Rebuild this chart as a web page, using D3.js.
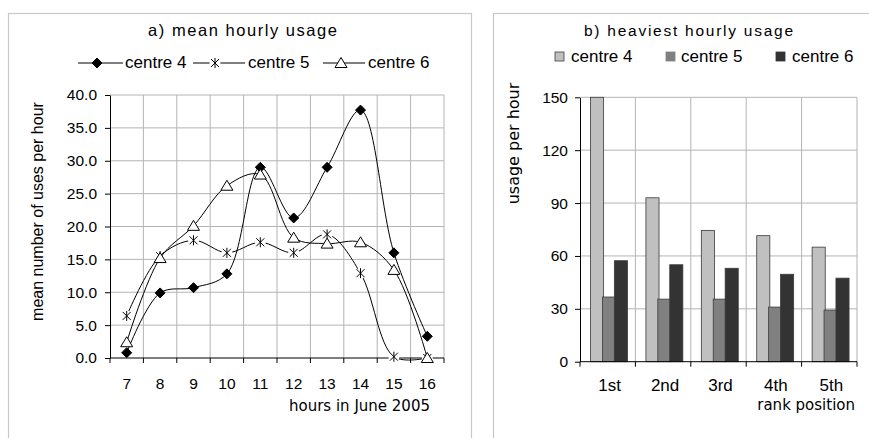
<!DOCTYPE html>
<html>
<head>
<meta charset="utf-8">
<script src="https://cdn.jsdelivr.net/npm/d3@7"></script>
<style>
  html, body { margin: 0; padding: 0; background: #fff; }
  svg { display: block; }
</style>
</head>
<body>
<svg id="chart" width="869" height="438"></svg>
<script>
// ---------- data ----------
const hours = ["7", "8", "9", "10", "11", "12", "13", "14", "15", "16"];
const centre4Mean = [0.8, 9.9, 10.7, 12.8, 29.0, 21.3, 29.0, 37.7, 16.0, 3.3];
const centre5Mean = [6.4, 15.5, 17.9, 16.0, 17.6, 16.0, 18.8, 12.9, 0.2, 0.0];
const centre6Mean = [2.4, 15.2, 20.1, 26.2, 27.9, 18.3, 17.4, 17.6, 13.4, 0.0];
const meanTicks = [0, 5, 10, 15, 20, 25, 30, 35, 40];

const ranks = ["1st", "2nd", "3rd", "4th", "5th"];
const centre4Peak = [150, 93, 74.5, 71.5, 65];
const centre5Peak = [36.7, 35.5, 35.5, 31, 29.3];
const centre6Peak = [57.3, 55, 53, 49.6, 47.4];
const peakTicks = [0, 30, 60, 90, 120, 150];

const seriesNames = ["centre 4", "centre 5", "centre 6"];
const barColors = ["#c0c0c0", "#808080", "#333333"];

// ---------- helpers ----------
const svg = d3.select("#chart");
const ARIAL = "'Liberation Sans', Arial, sans-serif";
const VERDANA = "'DejaVu Sans', Verdana, sans-serif";
const GRID = "#b4b4b4";

svg.append("rect").attr("width", 869).attr("height", 438).attr("fill", "#fff");
// panel frames
svg.append("rect").attr("x", 8.5).attr("y", 13.5).attr("width", 463).attr("height", 440)
  .attr("fill", "none").attr("stroke", "#c8c8c8").attr("stroke-width", 1.2);
svg.append("rect").attr("x", 493.5).attr("y", 13.5).attr("width", 400).attr("height", 440)
  .attr("fill", "none").attr("stroke", "#c8c8c8").attr("stroke-width", 1.2);

function label(g, str, x, y, o = {}) {
  const t = g.append("text").attr("x", x).attr("y", y).text(str)
    .attr("font-family", o.family || ARIAL)
    .attr("font-size", o.size || 15)
    .attr("fill", "#000")
    .attr("text-anchor", o.anchor || "start");
  if (o.rotate) t.attr("transform", `rotate(${o.rotate},${x},${y})`);
  if (o.len) t.attr("textLength", o.len).attr("lengthAdjust", "spacing");
  return t;
}

const diamondPath = "M0,-5L5,0L0,5L-5,0Z";
const trianglePath = "M0,-5.5L6,4.5L-6,4.5Z";
const asteriskPath = "M-4,-4L4,4M-4,4L4,-4M0,-5L0,5";

// ---------- chart a ----------
const ga = svg.append("g");
const xA = d3.scaleBand().domain(hours).range([110, 444]).padding(0);
const yA = d3.scaleLinear().domain([0, 40]).range([358, 95]);

// grid
ga.append("g").selectAll("line").data(meanTicks.filter(d => d > 0)).join("line")
  .attr("x1", 110).attr("x2", 444).attr("y1", d => yA(d)).attr("y2", d => yA(d))
  .attr("stroke", GRID).attr("stroke-width", 1);
const boundsA = hours.map(h => xA(h)).concat([xA.range()[1]]);
ga.append("g").selectAll("line").data(boundsA.slice(1)).join("line")
  .attr("x1", d => d).attr("x2", d => d).attr("y1", yA(0)).attr("y2", yA(40))
  .attr("stroke", GRID).attr("stroke-width", 1);

// y axis
const yAxA = ga.append("g").attr("transform", `translate(${xA.range()[0]},0)`)
  .call(d3.axisLeft(yA).tickValues(meanTicks).tickFormat(d3.format(".1f"))
    .tickSize(5).tickSizeOuter(0).tickPadding(8));
yAxA.selectAll("text").attr("font-family", ARIAL).attr("font-size", 15.5).attr("fill", "#000");
yAxA.selectAll("line").attr("stroke", "#000");
yAxA.select(".domain").attr("stroke", "#000");
// x axis line & boundary ticks
ga.append("line").attr("x1", 110).attr("x2", 444).attr("y1", yA(0)).attr("y2", yA(0)).attr("stroke", "#000");
ga.append("g").selectAll("line").data(boundsA).join("line")
  .attr("x1", d => d).attr("x2", d => d).attr("y1", yA(0)).attr("y2", yA(0) + 5).attr("stroke", "#000");
ga.append("g").selectAll("text").data(hours).join("text")
  .attr("x", d => xA(d) + xA.bandwidth() / 2).attr("y", 389)
  .attr("text-anchor", "middle").attr("font-family", ARIAL).attr("font-size", 15.5).text(d => d);

// lines
const lineGen = d3.line()
  .x((d, i) => xA(hours[i]) + xA.bandwidth() / 2)
  .y(d => yA(d))
  .curve(d3.curveCatmullRom.alpha(0.5));

const meanSeries = [
  { vals: centre4Mean, path: diamondPath, fill: "#000" },
  { vals: centre5Mean, path: asteriskPath, fill: "none", halo: true },
  { vals: centre6Mean, path: trianglePath, fill: "#fff" }
];
meanSeries.forEach(s => {
  const g = ga.append("g");
  g.append("path").attr("d", lineGen(s.vals)).attr("fill", "none").attr("stroke", "#000").attr("stroke-width", 1);
  const m = g.selectAll("g.m").data(s.vals).join("g")
    .attr("transform", (d, i) => `translate(${xA(hours[i]) + xA.bandwidth() / 2},${yA(d)})`);
  if (s.halo) m.append("circle").attr("r", 5.5).attr("fill", "#fff");
  m.append("path").attr("d", s.path).attr("fill", s.fill).attr("stroke", "#000").attr("stroke-width", 1);
});

// titles & legend a
label(ga, "a) mean hourly usage", 148, 36, { size: 16.5, len: 189 });
const legA = [
  { x1: 78, x2: 123, mx: 97, path: diamondPath, fill: "#000", tx: 125 },
  { x1: 193, x2: 245, mx: 215, path: asteriskPath, fill: "none", tx: 248, halo: true },
  { x1: 323, x2: 365, mx: 341, path: trianglePath, fill: "#fff", tx: 368 }
];
legA.forEach((l, i) => {
  ga.append("line").attr("x1", l.x1).attr("x2", l.x2).attr("y1", 63).attr("y2", 63).attr("stroke", "#000");
  const mg = ga.append("g").attr("transform", `translate(${l.mx},63)`);
  if (l.halo) mg.append("circle").attr("r", 5.5).attr("fill", "#fff");
  mg.append("path").attr("d", l.path).attr("fill", l.fill).attr("stroke", "#000");
  label(ga, seriesNames[i], l.tx, 68, { size: 17 });
});
label(ga, "mean number of uses per hour", 43, (yA(0) + yA(40)) / 2 - 15,
  { size: 16, anchor: "middle", rotate: -90 });
label(ga, "hours in June 2005", 430, 411, { size: 15, anchor: "end", family: VERDANA });

// ---------- chart b ----------
const gb = svg.append("g");
const xB = d3.scaleBand().domain(ranks).range([580, 857]).padding(0);
const yB = d3.scaleLinear().domain([0, 150]).range([361.7, 97.3]);
const bw = xB.bandwidth();
const xS = d3.scaleBand().domain(seriesNames).range([0.19 * bw, 0.19 * bw + 3 * 0.215 * bw]).padding(0);
const barW = xS.bandwidth() * 1.1;

gb.append("g").selectAll("line").data(peakTicks.filter(d => d > 0)).join("line")
  .attr("x1", 580).attr("x2", 857).attr("y1", d => yB(d)).attr("y2", d => yB(d))
  .attr("stroke", GRID);
const boundsB = ranks.map(r => xB(r)).concat([xB.range()[1]]);
gb.append("g").selectAll("line").data(boundsB.slice(1)).join("line")
  .attr("x1", d => d).attr("x2", d => d).attr("y1", yB(0)).attr("y2", yB(150))
  .attr("stroke", GRID);

const peakSeries = [centre4Peak, centre5Peak, centre6Peak];
peakSeries.forEach((vals, si) => {
  gb.append("g").selectAll("rect").data(vals).join("rect")
    .attr("x", (d, i) => xB(ranks[i]) + xS(seriesNames[si]))
    .attr("width", barW)
    .attr("y", d => yB(d))
    .attr("height", d => yB(0) - yB(d))
    .attr("fill", barColors[si])
    .attr("stroke", "#3a3a3a").attr("stroke-width", 0.8);
});

const yAxB = gb.append("g").attr("transform", `translate(${xB.range()[0]},0)`)
  .call(d3.axisLeft(yB).tickValues(peakTicks).tickSize(5).tickSizeOuter(0).tickPadding(7));
yAxB.selectAll("text").attr("font-family", ARIAL).attr("font-size", 15.5).attr("fill", "#000");
yAxB.selectAll("line").attr("stroke", "#000");
yAxB.select(".domain").attr("stroke", "#000");
gb.append("line").attr("x1", 580).attr("x2", 857).attr("y1", yB(0)).attr("y2", yB(0)).attr("stroke", "#000");
gb.append("g").selectAll("line").data(boundsB).join("line")
  .attr("x1", d => d).attr("x2", d => d).attr("y1", yB(0)).attr("y2", yB(0) + 5).attr("stroke", "#000");
gb.append("g").selectAll("text").data(ranks).join("text")
  .attr("x", d => xB(d) + bw / 2 + 2).attr("y", 391)
  .attr("text-anchor", "middle").attr("font-family", ARIAL).attr("font-size", 17).text(d => d);

label(gb, "b) heaviest hourly usage", 584, 36, { size: 15.5, len: 209 });
const legB = [{ sx: 555, tx: 571 }, { sx: 666, tx: 681 }, { sx: 776, tx: 792 }];
legB.forEach((l, i) => {
  gb.append("rect").attr("x", l.sx).attr("y", 52).attr("width", 9).attr("height", 9)
    .attr("fill", barColors[i]).attr("stroke", i === 0 ? "#404040" : barColors[i]).attr("stroke-width", 0.8);
  label(gb, seriesNames[i], l.tx, 61.5, { size: 17 });
});
label(gb, "usage per hour", 519, 143.5, { size: 16, anchor: "middle", rotate: -90, family: VERDANA });
label(gb, "rank position", 855, 410, { size: 15, anchor: "end", family: VERDANA });
</script>
</body>
</html>
